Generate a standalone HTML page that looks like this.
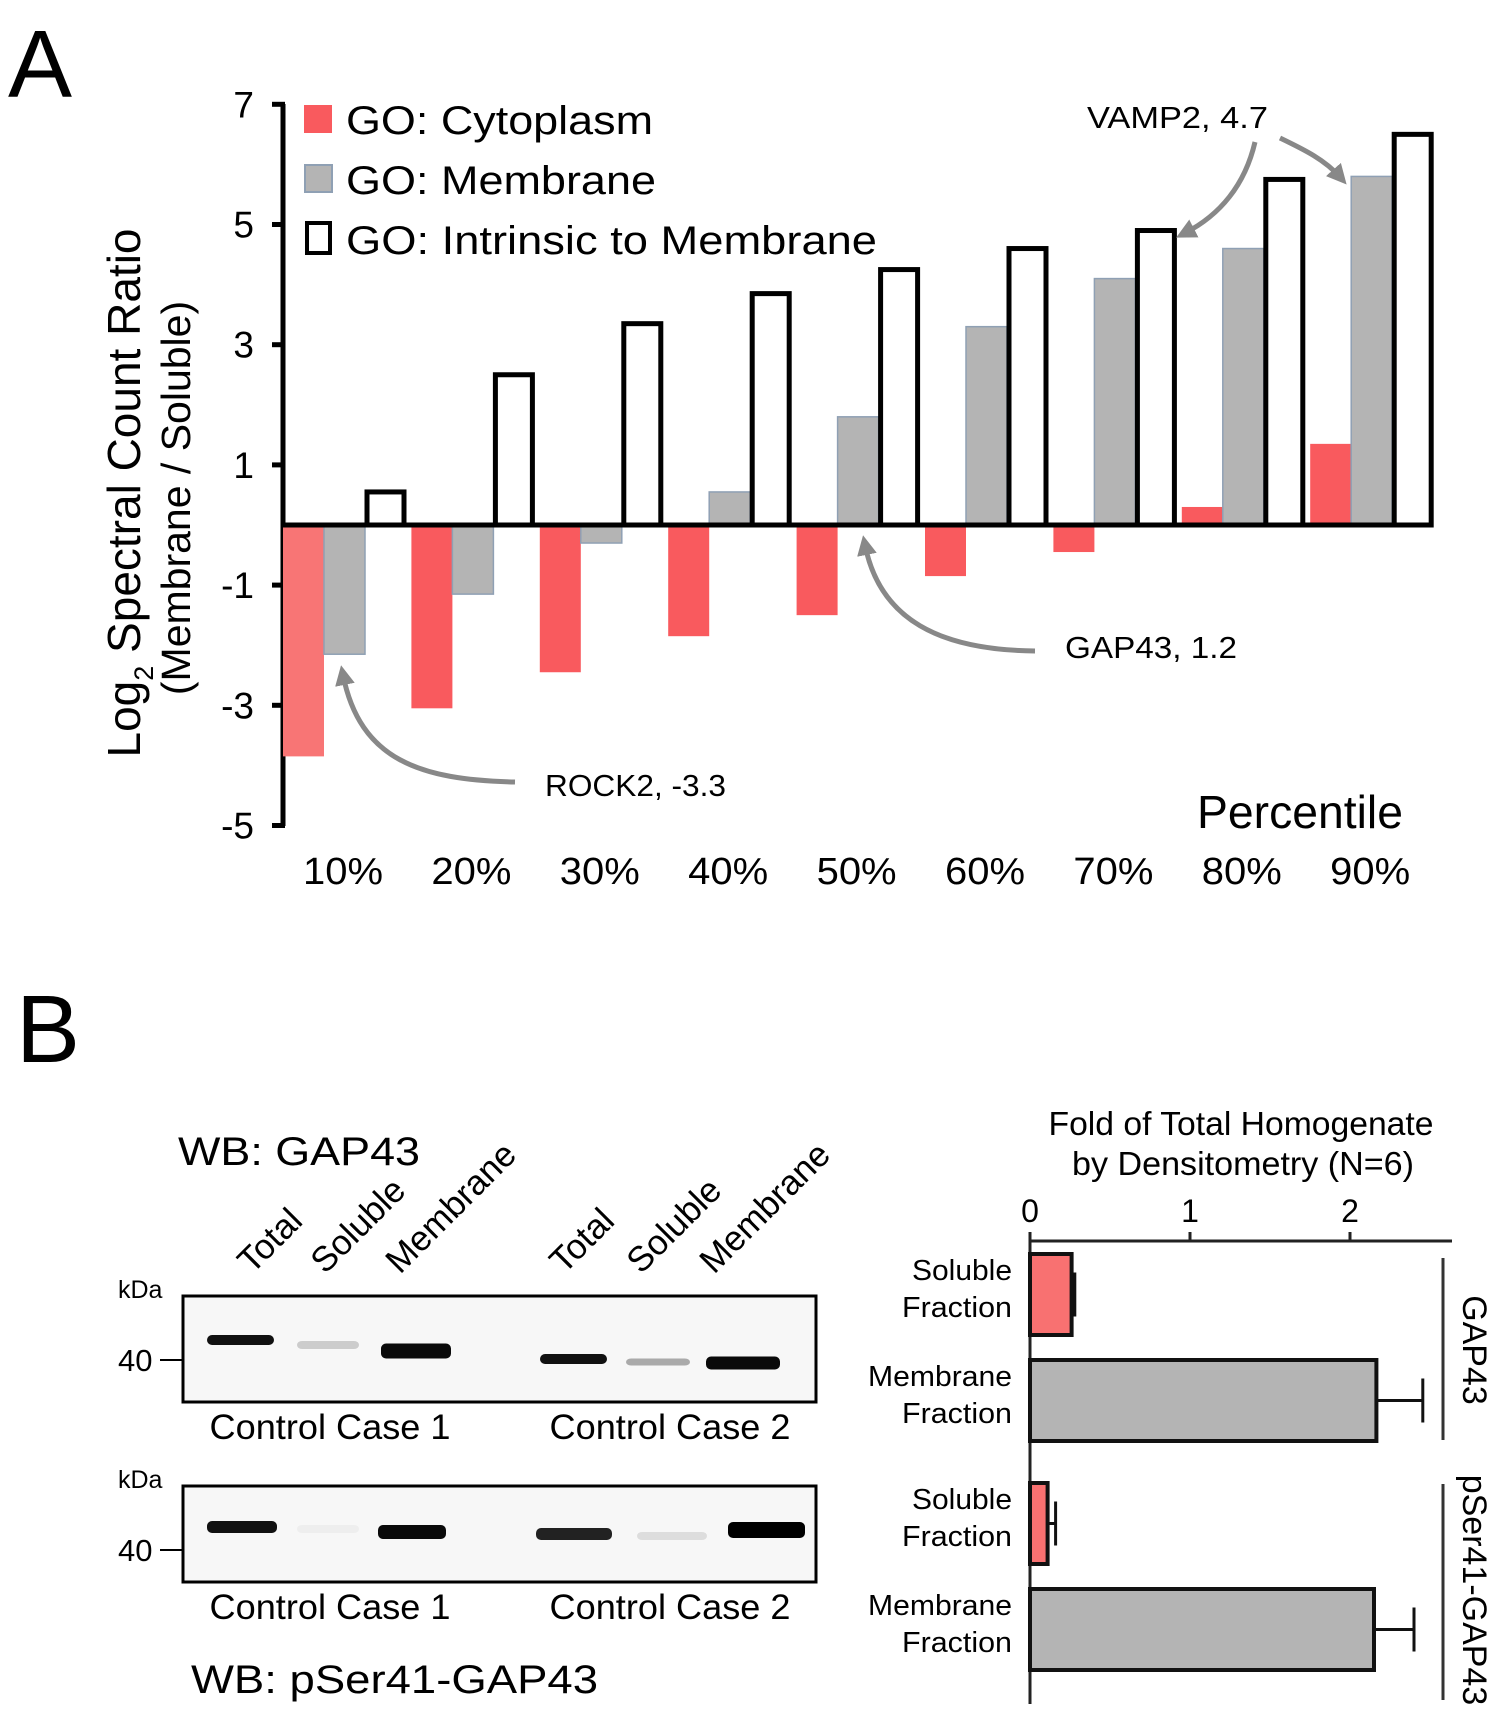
<!DOCTYPE html>
<html><head><meta charset="utf-8"><style>
html,body{margin:0;padding:0;background:#fff}
svg{display:block}
text{font-family:"Liberation Sans",sans-serif;fill:#000}
</style></head><body>
<svg id="fig" width="1504" height="1717" viewBox="0 0 1504 1717">
<defs><marker id="ah" viewBox="0 0 10 10" refX="5" refY="5" markerWidth="4" markerHeight="4" orient="auto-start-reverse"><path d="M0,0 L10,5 L0,10 z" fill="#888"/></marker></defs>
<text x="8" y="97" font-size="96">A</text>
<text x="16" y="1062" font-size="96">B</text>
<g id="chartA"></g>
<g id="blots"></g>
<g id="chartB"></g>
</svg>
<script>
const NS="http://www.w3.org/2000/svg";
const categories=["10%","20%","30%","40%","50%","60%","70%","80%","90%"];
const cytoplasm=[-3.85,-3.05,-2.45,-1.85,-1.5,-0.85,-0.45,0.3,1.35];
const membrane=[-2.15,-1.15,-0.3,0.55,1.8,3.3,4.1,4.6,5.8];
const intrinsic=[0.55,2.5,3.35,3.85,4.25,4.6,4.9,5.75,6.5];
const yTicks=[7,5,3,1,-1,-3,-5];
const fracLabels=["Soluble","Membrane","Soluble","Membrane"];
const fracValues=[0.26,2.165,0.11,2.15];
const fracErrors=[0.02,0.29,0.05,0.25];
const xTicksB=[0,1,2];

function mk(tag,attrs,parent,txt){const e=document.createElementNS(NS,tag);for(const k in attrs)e.setAttribute(k,attrs[k]);if(txt!==undefined)e.textContent=txt;parent.appendChild(e);return e;}

// Panel A
const A=document.getElementById('chartA');
const yA=v=>525-v*60.1;
const gx=i=>283+i*128.4;
const bw=41;
mk('line',{x1:283,y1:104,x2:283,y2:826,stroke:'#000','stroke-width':5},A);
yTicks.forEach(t=>{
  const tk=mk('line',{x1:272,y1:yA(t),x2:285,y2:yA(t),stroke:'#000','stroke-width':5},A);
  
  
  const l=mk('text',{x:254,y:yA(t)+13,'font-size':37,'text-anchor':'end'},A,String(t));
  
  
});
categories.forEach((c,i)=>{
  const x0=gx(i);
  const vr=cytoplasm[i];
  const r=mk('rect',{x:x0,y:Math.min(yA(0),yA(vr)),width:bw,height:Math.abs(yA(vr)-yA(0)),fill:i==0?'#f87575':'#f95a5e'},A);
  
  
  const vg=membrane[i];
  const g=mk('rect',{x:x0+bw,y:Math.min(yA(0),yA(vg)),width:bw,height:Math.abs(yA(vg)-yA(0)),fill:'#b4b4b4',stroke:'#8fa0b4','stroke-width':1.5},A);
  
  
  const vw=intrinsic[i];
  const w=mk('rect',{x:x0+2*bw+2,y:yA(vw),width:bw-4,height:yA(0)-yA(vw),fill:'#fff',stroke:'#000','stroke-width':5},A);
  
  
  const t=mk('text',{x:x0+60,y:884,'font-size':38,'text-anchor':'middle',textLength:80,lengthAdjust:'spacingAndGlyphs'},A,c);
  
  
});
mk('line',{x1:281,y1:525,x2:1432,y2:525,stroke:'#000','stroke-width':5,},A);
// legend
mk('rect',{x:304,y:105,width:28,height:28,fill:'#f95a5e',},A);
mk('text',{x:346,y:134,'font-size':40,textLength:307,lengthAdjust:'spacingAndGlyphs',},A,'GO: Cytoplasm');
mk('rect',{x:305,y:165,width:27,height:27,fill:'#b4b4b4',stroke:'#8fa0b4','stroke-width':2,},A);
mk('text',{x:346,y:194,'font-size':40,textLength:310,lengthAdjust:'spacingAndGlyphs',},A,'GO: Membrane');
mk('rect',{x:307,y:223,width:23,height:30,fill:'#fff',stroke:'#000','stroke-width':4,},A);
mk('text',{x:346,y:254,'font-size':40,textLength:531,lengthAdjust:'spacingAndGlyphs',},A,'GO: Intrinsic to Membrane');
// y title
const yt=mk('text',{transform:'translate(140,493) rotate(-90)','font-size':46,'text-anchor':'middle',},A);
yt.innerHTML='Log<tspan font-size="27" dy="13">2</tspan><tspan dy="-13"> Spectral Count Ratio</tspan>';
mk('text',{transform:'translate(190,498) rotate(-90)','font-size':41,'text-anchor':'middle',},A,'(Membrane / Soluble)');
mk('text',{x:1197,y:828,'font-size':46,textLength:206,lengthAdjust:'spacingAndGlyphs',},A,'Percentile');
// annotations
mk('text',{x:1087,y:128,'font-size':31,textLength:181,lengthAdjust:'spacingAndGlyphs',},A,'VAMP2, 4.7');
mk('path',{d:'M1255,142 C1245,185 1220,215 1185,233',fill:'none',stroke:'#888','stroke-width':5,'marker-end':'url(#ah)'},A);
mk('path',{d:'M1280,138 C1305,150 1325,160 1340,177',fill:'none',stroke:'#888','stroke-width':5,'marker-end':'url(#ah)'},A);
mk('text',{x:1065,y:658,'font-size':31,textLength:172,lengthAdjust:'spacingAndGlyphs',},A,'GAP43, 1.2');
mk('path',{d:'M1035,651 C940,650 880,620 865,545',fill:'none',stroke:'#888','stroke-width':5,'marker-end':'url(#ah)'},A);
mk('text',{x:545,y:796,'font-size':31,textLength:181,lengthAdjust:'spacingAndGlyphs',},A,'ROCK2, -3.3');
mk('path',{d:'M515,782 C420,780 360,760 343,675',fill:'none',stroke:'#888','stroke-width':5,'marker-end':'url(#ah)'},A);

// Blots
const Bl=document.getElementById('blots');
mk('text',{x:178,y:1165,'font-size':40,textLength:242,lengthAdjust:'spacingAndGlyphs',},Bl,'WB: GAP43');
const laneNames=["Total","Soluble","Membrane","Total","Soluble","Membrane"];
const laneX=[252,325,400,564,641,714];
laneNames.forEach((n,i)=>{
  const t=mk('text',{transform:`translate(${laneX[i]},1275) rotate(-45)`,'font-size':35},Bl,n);
  
  
});
function blot(y0,h,bands,id){
  mk('rect',{x:183,y:y0,width:633,height:h,fill:'#f7f7f7',stroke:'#000','stroke-width':3,},Bl);
  bands.forEach(b=>{
    const e=mk('rect',{x:b[0],y:b[1]-b[3]/2,width:b[2]-b[0],height:b[3],rx:5,fill:b[4]},Bl);
    
    
  });
  mk('text',{x:118,y:y0+2,'font-size':25},Bl,'kDa');
  mk('text',{x:118,y:y0+75,'font-size':31},Bl,'40');
  mk('line',{x1:160,y1:y0+64,x2:183,y2:y0+64,stroke:'#000','stroke-width':2},Bl);
}
blot(1296,106,[[207,1340,274,10,'#111'],[297,1345,359,8,'#ccc'],[381,1351,451,15,'#0a0a0a'],[540,1359,607,10,'#111'],[626,1362,690,7,'#aaa'],[706,1363,780,13,'#0a0a0a']],'gap43-blot');
blot(1486,96,[[207,1527,277,12,'#111'],[297,1529,359,8,'#eee'],[378,1532,446,14,'#0a0a0a'],[536,1534,612,12,'#222'],[637,1536,707,8,'#ddd'],[728,1530,805,16,'#000']],'pser41-blot');
['Control Case 1','Control Case 2','Control Case 1','Control Case 2'].forEach((s,i)=>{
  const t=mk('text',{x:i%2?670:330,y:i<2?1439:1619,'font-size':35,'text-anchor':'middle',textLength:241,lengthAdjust:'spacingAndGlyphs'},Bl,s);
  
  
});
mk('text',{x:191,y:1693,'font-size':40,textLength:407,lengthAdjust:'spacingAndGlyphs',},Bl,'WB: pSer41-GAP43');

// Panel B chart
const C=document.getElementById('chartB');
const xB=v=>1030+v*160;
mk('text',{x:1241,y:1135,'font-size':33,'text-anchor':'middle',textLength:385,lengthAdjust:'spacingAndGlyphs',},C,'Fold of Total Homogenate');
mk('text',{x:1243,y:1175,'font-size':33,'text-anchor':'middle',textLength:342,lengthAdjust:'spacingAndGlyphs',},C,'by Densitometry (N=6)');
mk('line',{x1:1030,y1:1241,x2:1452,y2:1241,stroke:'#222','stroke-width':3},C);
mk('line',{x1:1030,y1:1241,x2:1030,y2:1704,stroke:'#222','stroke-width':3},C);
xTicksB.forEach(t=>{
  const l=mk('line',{x1:xB(t),y1:1232,x2:xB(t),y2:1241,stroke:'#222','stroke-width':3},C);
  
  
  const tx=mk('text',{x:xB(t),y:1222,'font-size':32,'text-anchor':'middle'},C,String(t));
  
  
});
const rowY=[1254,1360,1483,1589];
fracValues.forEach((v,i)=>{
  const y=rowY[i], h=81;
  const soluble=i%2==0;
  const r=mk('rect',{x:1030,y:y,width:xB(v)-1030,height:h,fill:soluble?'#f87171':'#b4b4b4',stroke:'#111','stroke-width':4},C);
  
  
  const e=fracErrors[i];
  const el=mk('line',{x1:xB(v),y1:y+h/2,x2:xB(v+e),y2:y+h/2,stroke:'#111','stroke-width':3},C);
  
  
  mk('line',{x1:xB(v+e),y1:y+h/2-22,x2:xB(v+e),y2:y+h/2+22,stroke:'#111','stroke-width':3},C);
  const t1=mk('text',{x:1012,y:y+26,'font-size':29,'text-anchor':'end',textLength:fracLabels[i]=='Soluble'?100:144,lengthAdjust:'spacingAndGlyphs'},C,fracLabels[i]);
  
  
  mk('text',{x:1012,y:y+63,'font-size':29,'text-anchor':'end',textLength:110,lengthAdjust:'spacingAndGlyphs'},C,'Fraction');
});
mk('line',{x1:1443,y1:1258,x2:1443,y2:1440,stroke:'#333','stroke-width':3},C);
mk('line',{x1:1443,y1:1484,x2:1443,y2:1700,stroke:'#333','stroke-width':3},C);
mk('text',{transform:'translate(1463,1350) rotate(90)','font-size':34,'text-anchor':'middle',},C,'GAP43');
mk('text',{transform:'translate(1463,1590) rotate(90)','font-size':34,'text-anchor':'middle',},C,'pSer41-GAP43');
</script>
</body></html>
